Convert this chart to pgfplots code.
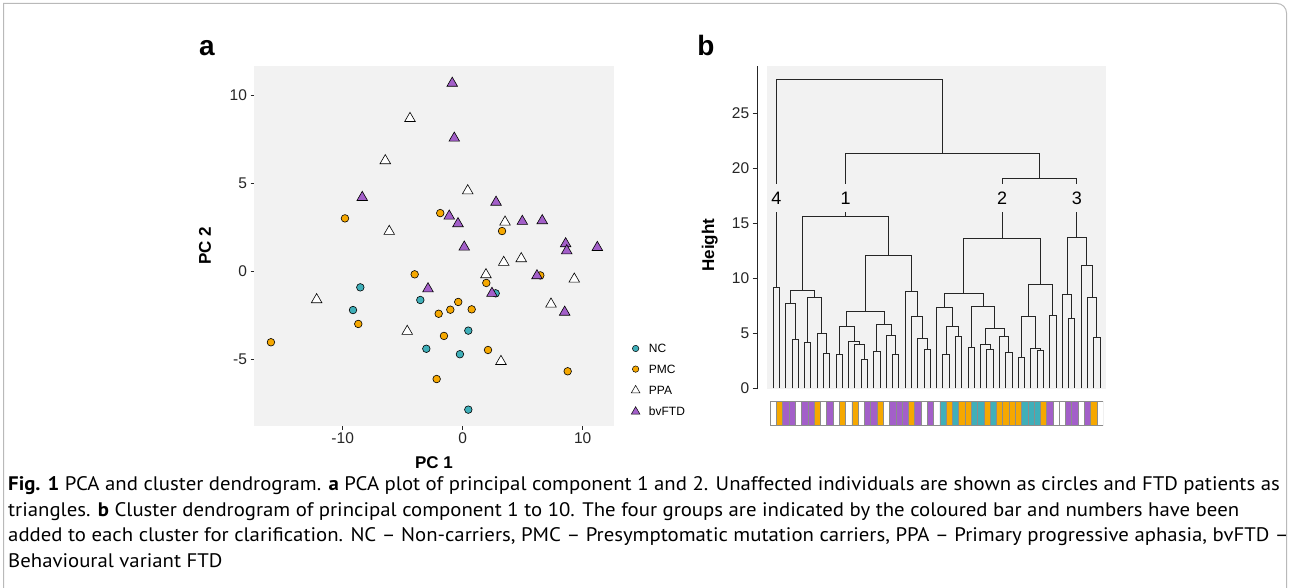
\documentclass[border=0pt]{standalone}
\usepackage{pgfplots}
\pgfplotsset{compat=1.18}
\usepackage{fontspec}
\setmainfont{Liberation Sans}
\newfontfamily\capfont[FakeStretch=1.06]{PT Sans}
\definecolor{panel}{HTML}{F2F2F2}
\definecolor{cNC}{HTML}{3FAFB9}
\definecolor{cPMC}{HTML}{F6A800}
\definecolor{cbv}{HTML}{A35FC9}
\newcommand{\fs}[1]{\fontsize{#1}{#1}\selectfont}

\begin{document}
\begin{tikzpicture}
\useasboundingbox (0,0) rectangle (1290pt,-588pt);
\draw[gray!55, line width=1pt] (3.5pt,-588pt) -- (3.5pt,-3.5pt) -- (1277pt,-3.5pt)
  arc[start angle=90, end angle=0, radius=9.5pt] -- (1286.5pt,-588pt);

\node[font=\bfseries\fs{28}, anchor=base] at (207pt,-56pt) {a};
\node[font=\bfseries\fs{28}, anchor=base] at (706pt,-56pt) {b};

% ---- panel a: PCA
\begin{axis}[
  at={(254pt,-426pt)}, anchor=south west, scale only axis,
  width=360pt, height=360pt,
  xmin=-17.39, xmax=12.61, ymin=-8.78, ymax=11.68,
  axis background/.style={fill=panel},
  axis line style={draw=none},
  xtick pos=left, ytick pos=left, tick align=outside, major tick length=3.5pt,
  tick style={black!85, line width=1pt},
  xtick={-10,0,10}, xticklabels={-10,0,10},
  ytick={-5,0,5,10}, yticklabels={-5,0,5,10},
  ticklabel style={font=\fs{15.5}, text=black!85},
  every axis x label/.style={at={(axis description cs:0.5,-0.103)}, anchor=center, font=\bfseries\fs{17}},
  every axis y label/.style={at={(axis description cs:-0.136,0.5)}, anchor=center, rotate=90, font=\bfseries\fs{17}},
  xlabel={PC 1}, ylabel={PC 2},
  clip=false,
  legend style={at={(axis description cs:1.0475,0.2278)}, anchor=north west,
    draw=none, fill=none, inner sep=0pt, row sep=12pt, column sep=9pt,
    font=\fs{12}, nodes={inner sep=0pt, text height=8.6pt, text depth=0pt},
    cells={anchor=west}},
]
\addplot[only marks, mark=*, mark size=3.8pt, mark options={fill=cNC, draw=black, line width=0.6pt}, forget plot]
  coordinates {(-8.53,-0.90) (-9.14,-2.19) (2.75,-1.24) (-3.53,-1.62) (0.47,-3.36)
               (-3.03,-4.39) (-0.23,-4.70) (0.47,-7.85)};
\addplot[only marks, mark=*, mark size=3.8pt, mark options={fill=cPMC, draw=black, line width=0.6pt}, forget plot]
  coordinates {(-9.81,3.02) (-8.70,-2.98) (-15.98,-4.02) (-1.87,3.32) (3.28,2.30)
               (-4.00,-0.16) (6.47,-0.22) (1.97,-0.65) (-0.37,-1.73) (-1.03,-2.17)
               (-2.00,-2.40) (0.75,-2.15) (-1.56,-3.66) (2.11,-4.46) (8.75,-5.67) (-2.17,-6.11)};
\addplot[only marks, mark=triangle*, mark size=6.1pt, mark options={fill=white, draw=black, line width=0.6pt}, forget plot]
  coordinates {(-4.39,8.70) (-6.45,6.30) (-6.12,2.28) (0.42,4.59) (3.53,2.81)
               (-12.17,-1.60) (3.42,0.52) (4.88,0.73) (1.94,-0.18) (9.30,-0.43)
               (7.36,-1.85) (-4.62,-3.40) (3.19,-5.11)};
\addplot[only marks, mark=triangle*, mark size=6.1pt, mark options={fill=cbv, draw=black, line width=0.6pt}, forget plot]
  coordinates {(-8.37,4.21) (-0.87,10.70) (-0.70,7.58) (2.78,3.94) (-1.12,3.15)
               (-0.39,2.72) (4.97,2.85) (6.63,2.89) (0.13,1.39) (8.58,1.58)
               (8.67,1.18) (11.22,1.37) (6.19,-0.24) (-2.89,-0.98) (2.44,-1.24) (8.50,-2.31)};
\addlegendimage{only marks, mark=*, mark size=3.2pt, mark options={fill=cNC, draw=black, line width=0.5pt}}
\addlegendentry{NC}
\addlegendimage{only marks, mark=*, mark size=3.2pt, mark options={fill=cPMC, draw=black, line width=0.5pt}}
\addlegendentry{PMC}
\addlegendimage{only marks, mark=triangle*, mark size=5pt, mark options={fill=white, draw=black, line width=0.5pt}}
\addlegendentry{PPA}
\addlegendimage{only marks, mark=triangle*, mark size=5pt, mark options={fill=cbv, draw=black, line width=0.5pt}}
\addlegendentry{bvFTD}
\end{axis}

% ---- panel b: dendrogram
\begin{axis}[
  at={(767pt,-389.3pt)}, anchor=south west, scale only axis,
  width=339pt, height=323.3pt,
  xmin=0, xmax=53.95, ymin=-0.09, ymax=29.3,
  axis background/.style={fill=panel},
  axis x line=none, axis y line=left, axis y line shift=9.3pt,
  y axis line style={-, black!85, line width=1pt},
  ytick={0,5,10,15,20,25}, yticklabels={0,5,10,15,20,25},
  tick align=outside, major tick length=5pt,
  tick style={black!85, line width=1pt},
  ticklabel style={font=\fs{15.5}, text=black!85},
  every axis y label/.style={at={(axis description cs:-0.169,0.446)}, anchor=center, rotate=90, font=\bfseries\fs{17}},
  ylabel={Height},
  clip=false,
]
\addplot[black!85, line width=1pt, unbounded coords=jump] coordinates {
 (1,0)(1,9.15)(2,9.15)(2,0) (nan,nan)
 (4,0)(4,4.45)(5,4.45)(5,0) (nan,nan)
 (3,0)(3,7.72)(4.5,7.72)(4.5,4.45) (nan,nan)
 (6,0)(6,4.15)(7,4.15)(7,0) (nan,nan)
 (9,0)(9,3.18)(10,3.18)(10,0) (nan,nan)
 (8,0)(8,4.96)(9.5,4.96)(9.5,3.18) (nan,nan)
 (6.5,4.15)(6.5,8.24)(8.75,8.24)(8.75,4.96) (nan,nan)
 (3.75,7.72)(3.75,8.88)(7.625,8.88)(7.625,8.24) (nan,nan)
 (11,0)(11,3.09)(12,3.09)(12,0) (nan,nan)
 (15,0)(15,2.6)(16,2.6)(16,0) (nan,nan)
 (14,0)(14,3.97)(15.5,3.97)(15.5,2.6) (nan,nan)
 (13,0)(13,4.24)(14.75,4.24)(14.75,3.97) (nan,nan)
 (11.5,3.09)(11.5,5.63)(13.875,5.63)(13.875,4.24) (nan,nan)
 (17,0)(17,3.33)(18,3.33)(18,0) (nan,nan)
 (20,0)(20,3.06)(21,3.06)(21,0) (nan,nan)
 (19,0)(19,4.81)(20.5,4.81)(20.5,3.06) (nan,nan)
 (17.5,3.33)(17.5,5.81)(19.75,5.81)(19.75,4.81) (nan,nan)
 (12.6875,5.63)(12.6875,6.97)(18.625,6.97)(18.625,5.81) (nan,nan)
 (25,0)(25,3.51)(26,3.51)(26,0) (nan,nan)
 (24,0)(24,4.54)(25.5,4.54)(25.5,3.51) (nan,nan)
 (23,0)(23,6.51)(24.75,6.51)(24.75,4.54) (nan,nan)
 (22,0)(22,8.82)(23.875,8.82)(23.875,6.51) (nan,nan)
 (15.65625,6.97)(15.65625,12.03)(22.9375,12.03)(22.9375,8.82) (nan,nan)
 (5.6875,8.88)(5.6875,15.6)(19.296875,15.6)(19.296875,12.03) (nan,nan)
 (28,0)(28,3.03)(29,3.03)(29,0) (nan,nan)
 (30,0)(30,4.69)(31,4.69)(31,0) (nan,nan)
 (28.5,3.03)(28.5,5.6)(30.5,5.6)(30.5,4.69) (nan,nan)
 (27,0)(27,7.36)(29.5,7.36)(29.5,5.6) (nan,nan)
 (32,0)(32,3.69)(33,3.69)(33,0) (nan,nan)
 (35,0)(35,3.51)(36,3.51)(36,0) (nan,nan)
 (34,0)(34,3.94)(35.5,3.94)(35.5,3.51) (nan,nan)
 (38,0)(38,3.24)(39,3.24)(39,0) (nan,nan)
 (37,0)(37,4.72)(38.5,4.72)(38.5,3.24) (nan,nan)
 (34.75,3.94)(34.75,5.45)(37.75,5.45)(37.75,4.72) (nan,nan)
 (32.5,3.69)(32.5,7.42)(36.25,7.42)(36.25,5.45) (nan,nan)
 (28.25,7.36)(28.25,8.63)(34.375,8.63)(34.375,7.42) (nan,nan)
 (40,0)(40,2.82)(41,2.82)(41,0) (nan,nan)
 (43,0)(43,3.42)(44,3.42)(44,0) (nan,nan)
 (42,0)(42,3.63)(43.5,3.63)(43.5,3.42) (nan,nan)
 (40.5,2.82)(40.5,6.57)(42.75,6.57)(42.75,3.63) (nan,nan)
 (45,0)(45,6.6)(46,6.6)(46,0) (nan,nan)
 (41.625,6.57)(41.625,9.42)(45.5,9.42)(45.5,6.6) (nan,nan)
 (31.3125,8.63)(31.3125,13.64)(43.5625,13.64)(43.5625,9.42) (nan,nan)
 (48,0)(48,6.39)(49,6.39)(49,0) (nan,nan)
 (47,0)(47,8.54)(48.5,8.54)(48.5,6.39) (nan,nan)
 (52,0)(52,4.63)(53,4.63)(53,0) (nan,nan)
 (51,0)(51,8.3)(52.5,8.3)(52.5,4.63) (nan,nan)
 (50,0)(50,11.15)(51.75,11.15)(51.75,8.3) (nan,nan)
 (47.75,8.54)(47.75,13.73)(50.875,13.73)(50.875,11.15) (nan,nan)
 (37.4375,13.64)(37.4375,19.09)(49.3125,19.09)(49.3125,13.73) (nan,nan)
 (12.4921875,15.6)(12.4921875,21.36)(43.375,21.36)(43.375,19.09) (nan,nan)
 (1.5,9.15)(1.5,28.09)(27.93359,28.09)(27.93359,21.36)
};
\foreach \cx/\lab in {1.5/4, 12.4921875/1, 37.4375/2, 49.3125/3}{
  \edef\temp{\noexpand\node[fill=panel, inner sep=1pt, minimum height=28pt, font=\noexpand\fs{18}]
    at (axis cs:\cx,17.27) {\lab};}
  \temp
}
\end{axis}

% ---- coloured group bar
\begin{axis}[
  at={(770.2pt,-425pt)}, anchor=south west, scale only axis,
  width=333pt, height=23.3pt,
  xmin=0.5, xmax=53.5, ymin=0, ymax=1, hide axis,
]
\addplot[ybar, bar width=1, bar shift=0pt, fill=white, draw=gray!90, line width=0.6pt]
  coordinates {(1,1)(5,1)(9,1)(11,1)(13,1)(15,1)(19,1)(25,1)(27,1)(46,1)(47,1)(50,1)(53,1)};
\addplot[ybar, bar width=1, bar shift=0pt, fill=cPMC, draw=gray!90, line width=0.6pt]
  coordinates {(2,1)(8,1)(12,1)(14,1)(18,1)(23,1)(29,1)(31,1)(32,1)(35,1)(37,1)(38,1)(39,1)(40,1)(44,1)(52,1)};
\addplot[ybar, bar width=1, bar shift=0pt, fill=cbv, draw=gray!90, line width=0.6pt]
  coordinates {(3,1)(4,1)(6,1)(7,1)(10,1)(16,1)(17,1)(20,1)(21,1)(22,1)(24,1)(26,1)(45,1)(48,1)(49,1)(51,1)};
\addplot[ybar, bar width=1, bar shift=0pt, fill=cNC, draw=gray!90, line width=0.6pt]
  coordinates {(28,1)(30,1)(33,1)(34,1)(36,1)(41,1)(42,1)(43,1)};
\end{axis}

% ---- caption
\begin{scope}[every node/.style={anchor=base west, inner sep=0pt, font=\capfont\fs{19.6}}]
\node at (8pt,-490pt) {\textbf{Fig. 1} PCA and cluster dendrogram. \textbf{a} PCA plot of principal component 1 and 2. Unaffected individuals are shown as circles and FTD patients as};
\node at (8pt,-516pt) {triangles. \textbf{b} Cluster dendrogram of principal component 1 to 10. The four groups are indicated by the coloured bar and numbers have been};
\node at (8pt,-541pt) {added to each cluster for clarification. NC – Non-carriers, PMC – Presymptomatic mutation carriers, PPA – Primary progressive aphasia, bvFTD –};
\node at (8pt,-567pt) {Behavioural variant FTD};
\end{scope}
\end{tikzpicture}
\end{document}
